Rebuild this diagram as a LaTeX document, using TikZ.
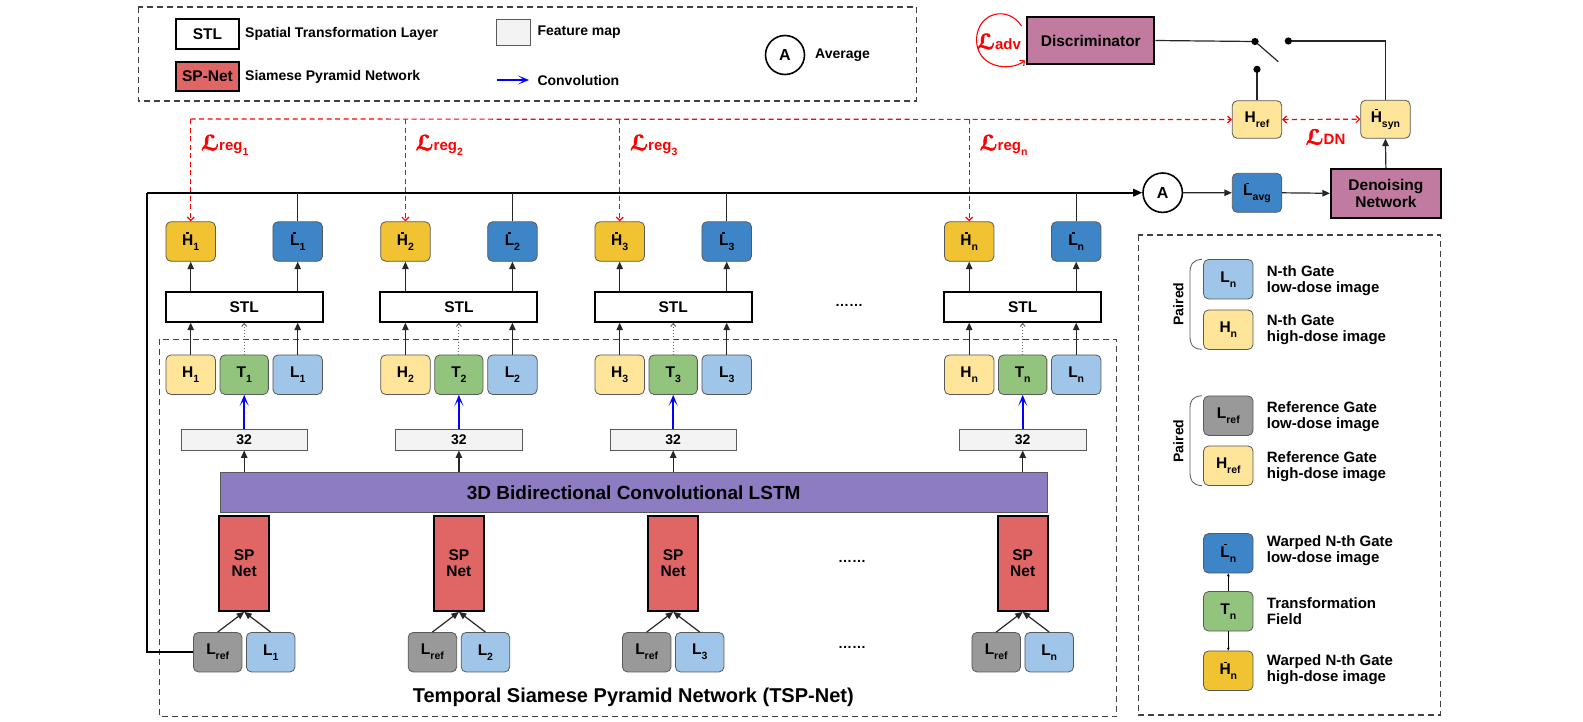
\documentclass[tikz,border=0pt]{standalone}
\usepackage{fontspec}
\setmainfont{Liberation Sans}
\newfontfamily\scrfont[FakeBold=2.5]{DejaVu Sans}
\usetikzlibrary{arrows.meta,calc}
\definecolor{cHb}{HTML}{F1C232}
\definecolor{cLb}{HTML}{3D85C6}
\definecolor{cH}{HTML}{FFE599}
\definecolor{cL}{HTML}{9FC5E8}
\definecolor{cT}{HTML}{93C47D}
\definecolor{cR}{HTML}{999999}
\definecolor{cSP}{HTML}{E06666}
\definecolor{cLSTM}{HTML}{8E7CC3}
\definecolor{cDis}{HTML}{C27BA0}
\definecolor{cFM}{HTML}{F3F3F3}
\definecolor{bord}{HTML}{595959}
\definecolor{dashc}{HTML}{404040}
\definecolor{rl}{HTML}{FF0000}
\newcommand\fs[1]{\fontsize{#1}{#1}\selectfont}
\newcommand\sbs[1]{\raisebox{-5pt}{\fs{10.5}#1}}
\newcommand\ovb[1]{\vbox{\offinterlineskip\halign{\hfil##\hfil\cr\rule{3pt}{1.3pt}\cr\noalign{\kern1.3pt}#1\cr}}}
\newcommand\scrL{{\scrfont\fs{21}ℒ}}
\tikzset{
  bx/.style={draw=bord, line width=0.8pt, rounded corners=5pt, minimum width=49.5pt, minimum height=39.5pt, inner sep=0pt, font=\fs{15.5}\bfseries},
  thick box/.style={draw=black, line width=2pt, inner sep=0pt, font=\fs{15.5}\bfseries},
  arr/.style={line width=1.2pt, draw=black!85, -{Triangle[length=7.5pt,width=6.5pt]}},
  ln/.style={line width=1.2pt, draw=black!85},
  mainln/.style={line width=1.8pt, draw=black},
  dotarr/.style={line width=1pt, draw=black!60, dotted, -{Straight Barb[length=3pt,width=5pt]}},
  bluearr/.style={line width=2pt, draw=blue, -{Stealth[length=11pt,width=9pt,inset=6pt]}},
  rdash/.style={line width=1.2pt, draw=rl, dash pattern=on 5pt off 3.5pt, -{Straight Barb[length=3.5pt,width=7pt]}},
  dbox/.style={draw=dashc, line width=1.2pt, dash pattern=on 6pt off 4pt},
  lbl/.style={font=\fs{14}\bfseries, anchor=west, inner sep=0pt},
  rlbl/.style={font=\fs{15}\bfseries, anchor=west, inner sep=0pt, align=left},
  redl/.style={text=rl, font=\fs{15}\bfseries, inner sep=0pt},
}
\begin{document}
\begin{tikzpicture}[x=1pt,y=-1pt]
\useasboundingbox (0,0) rectangle (1583,721);

% ---------- top legend ----------
\draw[dbox] (138.3,7) rectangle (916.7,101);
\node[thick box, fill=white, minimum width=63.6pt, minimum height=30pt] (lgSTL) at (207.5,34) {STL};
\node[thick box, fill=cSP, minimum width=63.6pt, minimum height=28.4pt] (lgSP) at (207.5,76.5) {SP-Net};
\node[lbl] (lgSTLt) at (245,33.5) {Spatial Transformation Layer};
\node[lbl] (lgSPt) at (245,76.7) {Siamese Pyramid Network};
\node[draw=bord, line width=0.8pt, fill=cFM, minimum width=34pt, minimum height=26pt, inner sep=0pt] (lgFM) at (513.7,32) {};
\node[lbl] (lgFMt) at (537.3,32.5) {Feature map};
\coordinate (lgC1) at (496.7,80);
\coordinate (lgC2) at (529,80);
\draw[bluearr] (lgC1) -- (lgC2);
\node[lbl] (lgCt) at (537.3,80) {Convolution};
\node[circle, draw=black, line width=1.6pt, minimum size=39pt, inner sep=0pt, font=\fs{16}\bfseries] (lgA) at (785,55) {A};
\node[lbl] (lgAt) at (815,55) {Average};

% ---------- TSP dashed box ----------
\draw[dbox] (159.3,339.3) rectangle (1116.7,716.7);
\node[font=\fs{20}\bfseries, inner sep=0pt] (tsp) at (633.3,697) {Temporal Siamese Pyramid Network (TSP-Net)};

% ---------- LSTM ----------
\node[draw=bord, line width=0.8pt, fill=cLSTM, minimum width=827.3pt, minimum height=40.3pt, inner sep=0pt, font=\fs{19}\bfseries] (lstm) at (633.65,492.6) {3D Bidirectional Convolutional LSTM};

% ---------- columns ----------
\foreach \i/\c in {1/244.2, 2/458.9, 3/673.2, n/1022.7}{
  \node[bx, fill=cHb] (Hb\i) at (\c-53.5,241.5) {\ovb{H}\sbs{\i}};
  \node[bx, fill=cLb] (Lb\i) at (\c+53.5,241.5) {\ovb{L}\sbs{\i}};
  \node[thick box, fill=white, minimum width=157pt, minimum height=30pt] (STL\i) at (\c,306.7) {STL};
  \node[bx, fill=cH] (H\i) at (\c-53.5,374.7) {H\sbs{\i}};
  \node[bx, fill=cT, minimum width=48.3pt] (T\i) at (\c,374.7) {T\sbs{\i}};
  \node[bx, fill=cL] (L\i) at (\c+53.5,374.7) {L\sbs{\i}};
  \node[draw=bord, line width=0.8pt, fill=cFM, minimum width=126.6pt, minimum height=20.7pt, inner sep=0pt, font=\fs{14}\bfseries] (F\i) at (\c,439.7) {32};
  \node[thick box, fill=cSP, minimum width=50pt, minimum height=95pt, align=center] (SP\i) at (\c,563.4) {SP\\[1pt]Net};
  \node[bx, fill=cR, minimum width=48.5pt] (R\i) at (\c-26.5,652.2) {L\sbs{ref}};
  \node[bx, fill=cL, minimum width=48.5pt] (B\i) at (\c+26.5,652.2) {L\sbs{\i}};
  % arrows
  \draw[arr] (H\i.north) -- (H\i.north |- STL\i.south);
  \draw[dotarr] (T\i.north) -- (T\i.north |- STL\i.south);
  \draw[arr] (L\i.north) -- (L\i.north |- STL\i.south);
  \draw[arr] (Hb\i.south |- STL\i.north) -- (Hb\i.south);
  \draw[arr] (Lb\i.south |- STL\i.north) -- (Lb\i.south);
  \draw[bluearr] (F\i.north) -- (T\i.south);
  \draw[arr] (F\i.south |- lstm.north) -- (F\i.south);
  \draw[arr] (R\i.north) -- (SP\i.south);
  \draw[arr] (B\i.north) -- (SP\i.south);
}
\node[font=\fs{14}\bfseries, inner sep=0pt] (dots1) at (849,305) {……};
\node[font=\fs{14}\bfseries, inner sep=0pt] (dots2) at (852,561.5) {……};
\node[font=\fs{14}\bfseries, inner sep=0pt] (dots3) at (852,647.5) {……};

% ---------- right top part ----------
\node[circle, draw=black, line width=1.6pt, minimum size=39.4pt, inner sep=0pt, font=\fs{16}\bfseries] (A) at (1162.7,192.7) {A};
\node[bx, fill=cLb, minimum height=39pt] (Lavg) at (1257,192.8) {\ovb{L}\sbs{avg}};
\node[thick box, fill=cDis, minimum width=110pt, minimum height=48.7pt, align=center] (Den) at (1385.9,193.3) {Denoising\\[1pt]Network};
\node[bx, fill=cH, minimum height=37.6pt] (Href) at (1257,119.5) {H\sbs{ref}};
\node[bx, fill=cH, minimum height=38pt] (Hsyn) at (1385.4,119.2) {\ovb{H}\sbs{syn}};
\node[thick box, fill=cDis, minimum width=127pt, minimum height=47.6pt] (Dis) at (1090.8,40.5) {Discriminator};

% main line
\coordinate (m0) at (147.3,192.7);
\draw[mainln] (R1.west) -| (m0);
\draw[mainln, -{Triangle[length=9pt,width=7.5pt]}] (m0) -- (A.west);
\foreach \i in {1,2,3,n}{ \draw[ln] (Lb\i.north) -- (Lb\i.north |- m0); }
\draw[arr] (A.east) -- (Lavg.west);
\draw[arr] (Lavg.east) -- (Den.west);
\draw[arr] (Den.north) -- (Hsyn.south);

% switch
\coordinate (sw1) at (1255,41.5);
\coordinate (sw2) at (1288.3,41);
\coordinate (sw3) at (1257,69.3);
\coordinate (swb) at (1278.3,61.7);
\draw[ln] (Dis.east) -- (sw1);
\draw[ln] (sw1) -- (swb);
\draw[ln] (sw2) -| (Hsyn.north);
\draw[ln] (sw3) -- (Href.north);
\fill (sw1) circle (3.6pt);
\fill (sw2) circle (3.6pt);
\fill (sw3) circle (3.6pt);

% red losses
\coordinate (r0) at (190.7,119);
\draw[rdash] (r0) -- (Href.west);
\foreach \i in {1,2,3,n}{ \draw[rdash] (Hb\i.north |- r0) -- (Hb\i.north); }
\draw[rdash, {Straight Barb[length=3.5pt,width=7pt]}-{Straight Barb[length=3.5pt,width=7pt]}] (Href.east) -- (Hsyn.west);
\foreach \i/\x in {1/201, 2/415.5, 3/630, n/979.5}{
  \node[redl, anchor=west] (lr\i) at (\x,145) {\scrL reg\sbs{\i}};
}
\node[redl] (ldn) at (1325.5,137) {\scrL DN};
\node[redl] (ladv) at (999,41.5) {\scrL adv};
\coordinate (lp1) at (1021.5,26);
\coordinate (lp2) at (1025,60.5);
\draw[line width=1.1pt, rl, -{Straight Barb[length=3.5pt,width=7pt]}] (lp1) .. controls (1008,5) and (977,12) .. (976.5,40) .. controls (977,68) and (1010,72) .. (lp2);

% ---------- right legend ----------
\draw[dbox] (1138.3,235) rectangle (1440.5,715);
\node[bx, fill=cL] (gL) at (1228.3,279.2) {L\sbs{n}};
\node[bx, fill=cH] (gH) at (1228.3,329.7) {H\sbs{n}};
\node[bx, fill=cR] (gR) at (1228.3,415.7) {L\sbs{ref}};
\node[bx, fill=cH] (gHr) at (1228.3,465.7) {H\sbs{ref}};
\node[bx, fill=cLb] (gLb) at (1228.3,553.3) {\ovb{L}\sbs{n}};
\node[bx, fill=cT] (gT) at (1228.3,611.3) {T\sbs{n}};
\node[bx, fill=cHb] (gHb) at (1228.3,670.7) {\ovb{H}\sbs{n}};
\draw[line width=0.7pt, -{Stealth[length=3pt,width=3pt]}] (gT.north) -- (gLb.south);
\draw[line width=0.7pt, -{Stealth[length=3pt,width=3pt]}] (gT.south) -- (gHb.north);
\node[rlbl] (tL) at (1266.7,281) {N-th Gate\\[1pt]low-dose image};
\node[rlbl] (tH) at (1266.7,330) {N-th Gate\\[1pt]high-dose image};
\node[rlbl] (tR) at (1266.7,417) {Reference Gate\\[1pt]low-dose image};
\node[rlbl] (tHr) at (1266.7,466.3) {Reference Gate\\[1pt]high-dose image};
\node[rlbl] (tLb) at (1266.7,551) {Warped N-th Gate\\[1pt]low-dose image};
\node[rlbl] (tT) at (1266.7,611) {Transformation\\[1pt]Field};
\node[rlbl] (tHb) at (1266.7,670) {Warped N-th Gate\\[1pt]high-dose image};
\draw[line width=0.8pt, bord] (1202,259.3) .. controls (1192,260) and (1190,265) .. (1190,273) -- (1190,336) .. controls (1190,344) and (1192,349) .. (1202,349.3);
\draw[line width=0.8pt, bord] (1202,395.7) .. controls (1192,396.4) and (1190,401) .. (1190,409) -- (1190,472) .. controls (1190,480) and (1192,485) .. (1202,485.7);
\node[rotate=90, font=\fs{14}\bfseries, inner sep=0pt] (p1) at (1178.3,304) {Paired};
\node[rotate=90, font=\fs{14}\bfseries, inner sep=0pt] (p2) at (1178.3,441) {Paired};
\end{tikzpicture}
\end{document}
